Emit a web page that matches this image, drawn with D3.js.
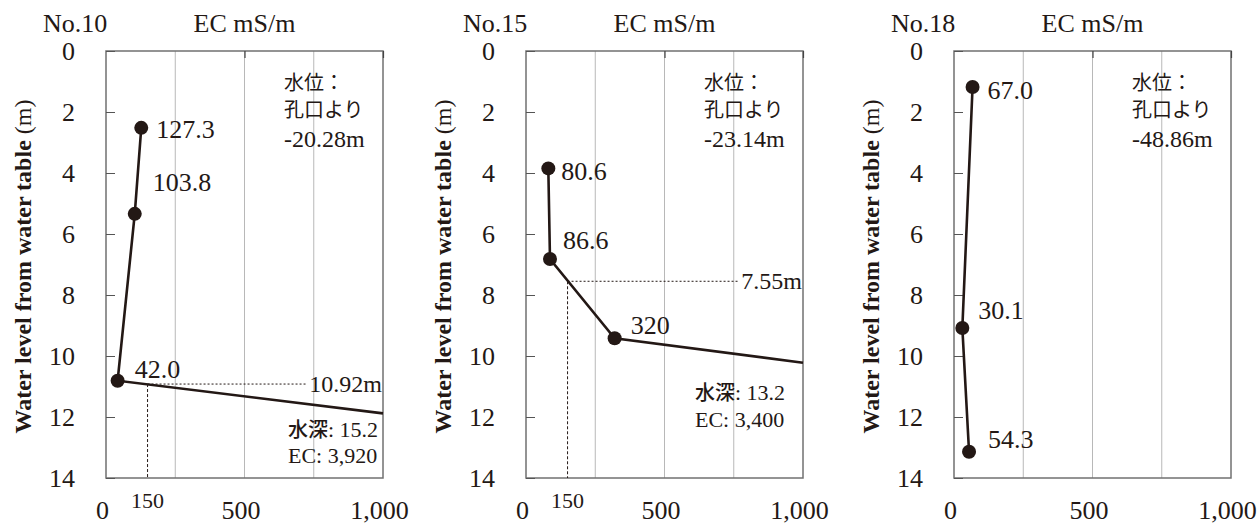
<!DOCTYPE html>
<html>
<head>
<meta charset="utf-8">
<script src="https://cdn.jsdelivr.net/npm/d3@7"></script>
<style>
body{margin:0;background:#fff}
text{font-family:"Liberation Serif","Times New Roman",serif;fill:#231815}
.jp{font-family:"Noto Sans CJK JP",sans-serif}
</style>
</head>
<body>
<svg id="chart" width="1260" height="525"></svg>
<script>
// wells and measured EC profiles (EC mS/m vs depth below water table, m)
const wells = ["No.10", "No.15", "No.18"];
const ecMeasured = [[127.3, 103.8, 42.0], [80.6, 86.6, 320], [67.0, 30.1, 54.3]];
const depthMeasured = [[2.52, 5.34, 10.81], [3.85, 6.82, 9.42], [1.18, 9.08, 13.14]];
const ecLabels = [["127.3", "103.8", "42.0"], ["80.6", "86.6", "320"], ["67.0", "30.1", "54.3"]];
// profile continues off the right edge (EC = 1,000) at this depth
const depthAt1000 = [11.88, 10.22, null];
const wellHead = ["-20.28m", "-23.14m", "-48.86m"];
const cutEC = 150;
const cutDepth = [10.92, 7.55, null];
const cutLabels = ["10.92m", "7.55m", null];
const totalDepth = ["15.2", "13.2", null];
const bottomEC = ["3,920", "3,400", null];
const xTicks = [0, 500, 1000];
const gridEC = [250, 500, 750];
const yTicks = [0, 2, 4, 6, 8, 10, 12, 14];

// layout
const plotLeft = [106, 526, 954];
const plotW = 277, plotTop = 51, plotBottom = 478;
const labelOffsets = [
  [[15, 2], [18, -31], [17, -11]],
  [[13, 3], [13, -19], [16, -13]],
  [[15, 4], [16, -17], [19, -12]]
];
const noteBottom = [[182, 437, 463], [169, 400, 427], null];
const ink = "#231815";

const svg = d3.select("#chart");

wells.forEach((name, p) => {
  const x = d3.scaleLinear().domain([0, 1000]).range([0, plotW]);
  const y = d3.scaleLinear().domain([0, 14]).range([0, plotBottom - plotTop]);
  const g = svg.append("g").attr("transform", `translate(${plotLeft[p]},${plotTop})`);
  const h = plotBottom - plotTop;

  // grid
  g.selectAll(".grid").data(gridEC).enter().append("line")
    .attr("x1", d => x(d)).attr("x2", d => x(d))
    .attr("y1", 0).attr("y2", h)
    .attr("stroke", "#b8b8b8").attr("stroke-width", 1);

  // frame
  g.append("rect").attr("width", plotW).attr("height", h)
    .attr("fill", "none").attr("stroke", "#707070").attr("stroke-width", 1.5);

  // left axis: inward ticks, labels
  const yAxis = g.append("g").call(d3.axisLeft(y).tickValues(yTicks).tickSize(-9).tickPadding(31));
  yAxis.select(".domain").remove();
  yAxis.selectAll("line").attr("stroke", "#555");
  yAxis.selectAll("text").attr("font-size", 26).attr("fill", ink)
    .attr("font-family", "Liberation Serif, serif");

  // top axis: short inward ticks
  const tAxis = g.append("g").call(d3.axisTop(x).tickValues([500, 1000]).tickSize(-7).tickFormat(""));
  tAxis.select(".domain").remove();
  tAxis.selectAll("line").attr("stroke", "#444").attr("stroke-width", 1.2);

  // bottom labels
  const xAxis = g.append("g").attr("transform", `translate(0,${h})`)
    .call(d3.axisBottom(x).tickValues(xTicks).tickSize(0).tickPadding(23).tickFormat(d3.format(",")));
  xAxis.select(".domain").remove();
  xAxis.selectAll("text").attr("font-size", 26).attr("fill", ink).attr("dx", -4)
    .attr("font-family", "Liberation Serif, serif");

  // titles
  svg.append("text").attr("x", plotLeft[p] - 63).attr("y", 32).attr("font-size", 26).text(name);
  svg.append("text").attr("x", plotLeft[p] + plotW / 2).attr("y", 32)
    .attr("text-anchor", "middle").attr("font-size", 26).text("EC mS/m");

  const yt = svg.append("text")
    .attr("transform", `translate(${plotLeft[p] - 83},${plotTop + h / 2 + 2}) rotate(-90)`)
    .attr("text-anchor", "middle").attr("dominant-baseline", "central").attr("font-size", 24);
  yt.append("tspan").attr("font-weight", "bold").text("Water level from water table ");
  yt.append("tspan").text("(m)");

  // threshold lines at EC 150
  if (cutDepth[p] !== null) {
    const lbl = g.append("text").attr("x", plotW - 1).attr("y", y(cutDepth[p]))
      .attr("text-anchor", "end").attr("dominant-baseline", "central")
      .attr("font-size", 24).text(cutLabels[p]);
    const lw = lbl.node().getComputedTextLength();
    g.append("line").attr("x1", x(cutEC)).attr("x2", plotW - lw - 3)
      .attr("y1", y(cutDepth[p])).attr("y2", y(cutDepth[p]))
      .attr("stroke", ink).attr("stroke-width", 1).attr("stroke-dasharray", "2,2");
    g.append("line").attr("x1", x(cutEC)).attr("x2", x(cutEC))
      .attr("y1", y(cutDepth[p])).attr("y2", h)
      .attr("stroke", ink).attr("stroke-width", 1).attr("stroke-dasharray", "3,2");
    g.append("text").attr("x", x(cutEC)).attr("y", h + 22)
      .attr("text-anchor", "middle").attr("dominant-baseline", "central")
      .attr("font-size", 22).text(String(cutEC));
  }

  // profile line
  const pts = ecMeasured[p].map((v, i) => ({ ec: v, d: depthMeasured[p][i] }));
  const linePts = depthAt1000[p] !== null ? pts.concat([{ ec: 1000, d: depthAt1000[p] }]) : pts;
  g.append("path").datum(linePts)
    .attr("fill", "none").attr("stroke", ink).attr("stroke-width", 2.6)
    .attr("d", d3.line().x(d => x(d.ec)).y(d => y(d.d)));

  g.selectAll(".pt").data(pts).enter().append("circle")
    .attr("cx", d => x(d.ec)).attr("cy", d => y(d.d)).attr("r", 7).attr("fill", ink);

  g.selectAll(".ptl").data(pts).enter().append("text")
    .attr("x", (d, i) => x(d.ec) + labelOffsets[p][i][0])
    .attr("y", (d, i) => y(d.d) + labelOffsets[p][i][1])
    .attr("dominant-baseline", "central").attr("font-size", 26)
    .text((d, i) => ecLabels[p][i]);

  // water level note
  const nx = 178;
  g.append("text").attr("class", "jp").attr("x", nx).attr("y", 39).attr("font-size", 20).text("水位：");
  g.append("text").attr("class", "jp").attr("x", nx).attr("y", 66).attr("font-size", 20).text("孔口より");
  g.append("text").attr("x", nx).attr("y", 96).attr("font-size", 24).text(wellHead[p]);

  // bottom of hole note
  if (totalDepth[p] !== null) {
    const nb = noteBottom[p];
    const t1 = g.append("text").attr("x", nb[0]).attr("y", nb[1] - plotTop).attr("font-size", 22);
    t1.append("tspan").attr("class", "jp").attr("font-size", 20).attr("font-weight", 500).text("水深");
    t1.append("tspan").text(": " + totalDepth[p]);
    g.append("text").attr("x", nb[0]).attr("y", nb[2] - plotTop).attr("font-size", 22)
      .text("EC: " + bottomEC[p]);
  }
});
</script>
</body>
</html>
